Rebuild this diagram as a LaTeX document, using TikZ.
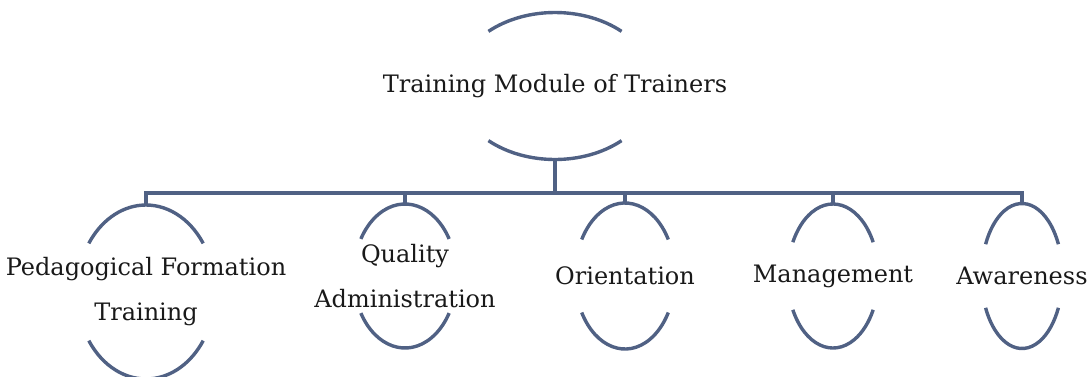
\documentclass[tikz,border=0pt]{standalone}
\usepackage{fontspec}
\setmainfont{DejaVu Serif}
\definecolor{arcblue}{RGB}{80,97,132}

% two arcs of an ellipse round a node: #1 node, #2 x radius, #3 y radius, #4 angle
\newcommand\ringarcs[4]{%
  \draw[arcline] (#1.center) ++(#4:#2 and #3) arc[start angle=#4, end angle=180-#4, x radius=#2, y radius=#3];
  \draw[arcline] (#1.center) ++(180+#4:#2 and #3) arc[start angle=180+#4, end angle=360-#4, x radius=#2, y radius=#3];
}

\begin{document}
\begin{tikzpicture}[x=1pt, y=1pt,
  lbl/.style={font=\fontsize{24}{45}\selectfont, text=black!90, align=center, inner sep=0pt},
  arcline/.style={draw=arcblue, line width=3.4pt}]
\useasboundingbox (0,0) rectangle (1089,-376);

% top module
\node (main) [lbl] at (555,-86) {Training Module of Trainers};
\ringarcs{main}{99.5}{73.5}{48}

% the five branches
\node (ped)  [lbl] at (146,-292)  {Pedagogical Formation\\Training};
\node (qual) [lbl] at (405,-276)  {Quality\\Administration};
\node (ori)  [lbl] at (625,-276)  {Orientation};
\node (man)  [lbl] at (833,-276)  {Management};
\node (awa)  [lbl] at (1022,-276) {Awareness};
\ringarcs{ped}{69}{87}{34}
\ringarcs{qual}{51.5}{72}{31}
\ringarcs{ori}{50}{73}{30}
\ringarcs{man}{45.5}{72}{28}
\ringarcs{awa}{40.5}{72.5}{26}

% connector ends
\coordinate (main-s) at ([yshift=-73.5pt]main.center);
\coordinate (bus) at (555,-193);
\coordinate (ped-n)  at ([yshift=87pt]ped.center);
\coordinate (qual-n) at ([yshift=72pt]qual.center);
\coordinate (ori-n)  at ([yshift=73pt]ori.center);
\coordinate (man-n)  at ([yshift=72pt]man.center);
\coordinate (awa-n)  at ([yshift=72.5pt]awa.center);

\draw[arcline] (main-s) -- (bus);
\draw[arcline] (bus) -| (ped-n);
\draw[arcline] (bus) -| (qual-n);
\draw[arcline] (bus) -| (ori-n);
\draw[arcline] (bus) -| (man-n);
\draw[arcline] (bus) -| (awa-n);
\end{tikzpicture}
\end{document}
